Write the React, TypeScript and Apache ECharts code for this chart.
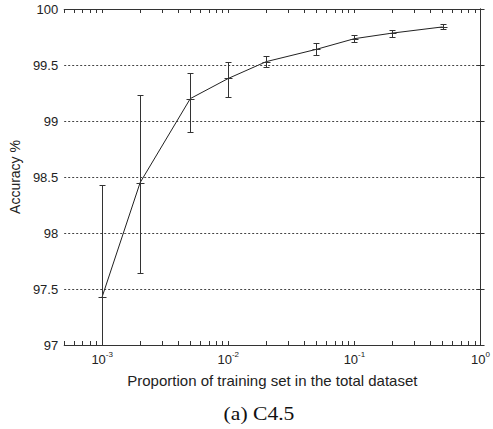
import React, { useEffect, useRef } from "react";
import * as echarts from "echarts";

// Proportion of training set (log scale) and C4.5 accuracy (%)
const proportions = [0.001, 0.002, 0.005, 0.01, 0.02, 0.05, 0.1, 0.2, 0.5];
const accuracy = [97.43, 98.45, 99.2, 99.38, 99.53, 99.64, 99.735, 99.785, 99.84];
const errLow = [96.43, 97.64, 98.9, 99.21, 99.485, 99.585, 99.707, 99.752, 99.817];
const errHigh = [98.43, 99.23, 99.43, 99.525, 99.577, 99.698, 99.77, 99.811, 99.866];

const xMin = 0.0005;
const xMax = 1;
const majorTicks = [0.001, 0.01, 0.1, 1];
const minorMultipliers = [1, 2, 3, 4, 5, 6, 7, 8, 9];
const decades = [0.0001, 0.001, 0.01, 0.1, 1];
const yTicks = [97, 97.5, 98, 98.5, 99, 99.5, 100];

const xTitle = "Proportion of training set in the total dataset";
const yTitle = "Accuracy %";
const caption = "(a) C4.5";

const SANS = "'Liberation Sans', Arial, sans-serif";
const SERIF = "'Liberation Serif', 'Times New Roman', serif";
const AXIS_COLOR = "#333";
const TEXT_COLOR = "#222";

const lg = (v: number) => Math.log10(v);

export default function App() {
  const ref = useRef<HTMLDivElement>(null);

  useEffect(() => {
    if (!ref.current) return;
    const chart = echarts.init(ref.current, undefined, { renderer: "svg" });

    const lo = lg(xMin);
    const hi = lg(xMax);
    const allTicks: number[] = [];
    decades.forEach((d) =>
      minorMultipliers.forEach((m) => {
        const v = lg(d * m);
        if (v >= lo - 1e-9 && v <= hi + 1e-9) allTicks.push(v);
      })
    );
    const majorLog = majorTicks.map(lg);

    const lineData = proportions.map((p, i) => [lg(p), accuracy[i]]);
    const errData = proportions.map((p, i) => [lg(p), errLow[i], errHigh[i], accuracy[i]]);

    const baseX = {
      type: "value" as const,
      min: lo,
      max: hi,
      splitLine: { show: false },
      axisLine: { show: true, onZero: false, lineStyle: { color: AXIS_COLOR, width: 1 } },
      axisTick: {
        show: true,
        inside: true,
        length: 4,
        customValues: allTicks,
        lineStyle: { color: AXIS_COLOR },
      },
    };

    const option: any = {
      animation: false,
      backgroundColor: "#fff",
      grid: { left: 58, right: 9, top: 9, bottom: 84, containLabel: false },
      xAxis: [
        {
          ...baseX,
          position: "bottom",
          name: xTitle,
          nameLocation: "middle",
          nameGap: 28,
          nameTextStyle: { fontFamily: SANS, fontSize: 15, color: TEXT_COLOR },
          axisLabel: {
            show: true,
            customValues: majorLog,
            margin: 5,
            formatter: (v: number) => `{b|10}{s|${Math.round(v)}}`,
            rich: {
              b: { fontFamily: SANS, fontSize: 13, color: TEXT_COLOR, lineHeight: 16, verticalAlign: "bottom" },
              s: { fontFamily: SANS, fontSize: 8, color: TEXT_COLOR, lineHeight: 9, verticalAlign: "top" },
            },
          },
        },
        {
          ...baseX,
          position: "top",
          axisLabel: { show: false },
        },
      ],
      yAxis: [
        {
          type: "value",
          min: yTicks[0],
          max: yTicks[yTicks.length - 1],
          interval: 0.5,
          position: "left",
          name: yTitle,
          nameLocation: "middle",
          nameGap: 32,
          nameTextStyle: { fontFamily: SANS, fontSize: 14, color: TEXT_COLOR },
          axisLine: { show: true, lineStyle: { color: AXIS_COLOR } },
          axisTick: { show: true, inside: true, length: 4, lineStyle: { color: AXIS_COLOR } },
          axisLabel: { fontFamily: SANS, fontSize: 13, color: TEXT_COLOR, margin: 6 },
          splitLine: { show: true, lineStyle: { color: "#444", type: [2, 2], width: 1 } },
        },
        {
          type: "value",
          min: yTicks[0],
          max: yTicks[yTicks.length - 1],
          interval: 0.5,
          position: "right",
          axisLine: { show: true, lineStyle: { color: AXIS_COLOR } },
          axisTick: { show: true, inside: true, length: 4, lineStyle: { color: AXIS_COLOR } },
          axisLabel: { show: false },
          splitLine: { show: false },
        },
      ],
      graphic: [
        {
          type: "text",
          x: 259,
          y: 414,
          scaleX: 1.2,
          style: {
            text: caption,
            fontFamily: SERIF,
            fontSize: 18,
            fill: "#111",
            textAlign: "center",
            textVerticalAlign: "middle",
          },
        },
      ],
      series: [
        {
          type: "line",
          data: lineData,
          xAxisIndex: 0,
          yAxisIndex: 0,
          symbol: "none",
          lineStyle: { color: "#222", width: 1 },
          z: 3,
        },
        {
          type: "custom",
          data: errData,
          xAxisIndex: 0,
          yAxisIndex: 0,
          clip: true,
          z: 4,
          renderItem: (_params: any, api: any) => {
            const x = api.value(0);
            const pLo = api.coord([x, api.value(1)]);
            const pHi = api.coord([x, api.value(2)]);
            const pM = api.coord([x, api.value(3)]);
            const cx = Math.round(pM[0]) + 0.5;
            const yl = Math.round(pLo[1]) + 0.5;
            const yh = Math.round(pHi[1]) + 0.5;
            const ym = Math.round(pM[1]) + 0.5;
            const cap = 3;
            const mk = 4;
            const st = { stroke: "#333", lineWidth: 1 };
            return {
              type: "group",
              children: [
                { type: "line", shape: { x1: cx, y1: yl, x2: cx, y2: yh }, style: st },
                { type: "line", shape: { x1: cx - cap, y1: yl, x2: cx + cap, y2: yl }, style: st },
                { type: "line", shape: { x1: cx - cap, y1: yh, x2: cx + cap, y2: yh }, style: st },
                { type: "line", shape: { x1: cx - mk, y1: ym, x2: cx + mk, y2: ym }, style: st },
              ],
            };
          },
        },
      ],
    };

    chart.setOption(option);
    return () => chart.dispose();
  }, []);

  return (
    <div
      ref={ref}
      style={{ position: "fixed", left: 0, top: 0, width: 493, height: 429, background: "#fff" }}
    />
  );
}
